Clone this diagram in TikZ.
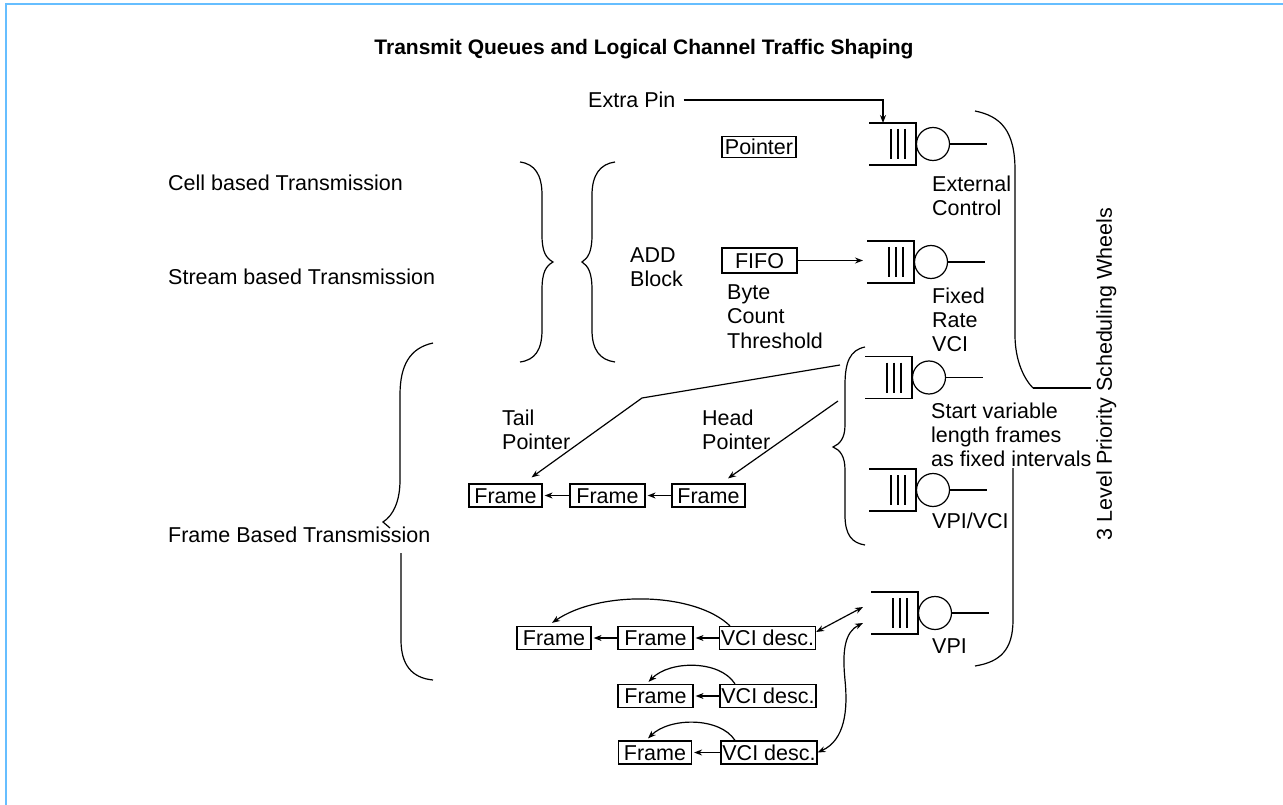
\documentclass[tikz,border=0pt]{standalone}
\usepackage{fontspec}
\setmainfont{Liberation Sans}
\usetikzlibrary{arrows.meta}
\definecolor{borderblue}{RGB}{102,190,255}
\tikzset{
  txt/.style={inner sep=0pt, font=\fontsize{21.5}{24.3}\selectfont},
  lbl/.style={txt, text height=15.5pt, text depth=0pt, anchor=west},
  mlbl/.style={txt, align=left, anchor=north west},
  box/.style={txt, draw, line width=1.2pt, text height=15.5pt, text depth=0pt, minimum height=23pt},
  ln/.style={line width=1.2pt},
  arr/.style={ln, -{Stealth[length=8pt,width=6pt]}},
  darr/.style={ln, {Stealth[length=8pt,width=6pt]}-{Stealth[length=8pt,width=6pt]}},
  queue/.pic={
    \draw[ln] (-64,-21) -- (-17,-21) -- (-17,21) -- (-64,21);
    \foreach \bx in {-42,-35,-28} \draw[ln] (\bx,-15) -- (\bx,15);
    \draw[ln] (0,0) circle[radius=16.5pt];
    \draw[ln] (16.5,0) -- (54,0);
    \coordinate (-top) at (-50,-21);
    \coordinate (-in) at (-68,0);
    \coordinate (-inA) at (-72,-6);
    \coordinate (-inB) at (-72,10);
  }
}
\begin{document}
\begin{tikzpicture}[x=1pt,y=-1pt]
\useasboundingbox (0,0) rectangle (1283,805);
% border
\draw[borderblue, line width=2pt] (6,805) -- (6,4) -- (1283,4);

% title
\node[txt, font=\bfseries\fontsize{21}{24}\selectfont, text height=15.5pt, text depth=0pt] (title) at (644,47) {Transmit Queues and Logical Channel Traffic Shaping};

% left labels
\node[lbl] (cell) at (168,183) {Cell based Transmission};
\node[lbl] (stream) at (168,277) {Stream based Transmission};
\node[lbl] (framebased) at (168,535) {Frame Based Transmission};

% queues
\pic (q1) at (933,144) {queue};
\pic (q2) at (931,262) {queue};
\pic (q3) at (929,377.5) {queue};
\pic (q4) at (933,490) {queue};
\pic (q5) at (935,613) {queue};

% queue labels
\node[mlbl] (ext) at (932,175.5) {External\\Control};
\node[mlbl] (fixed) at (932,287.5) {Fixed\\Rate\\VCI};
\node[mlbl] (start) at (931,402.5) {Start variable\\length frames\\as fixed intervals};
\node[lbl] (vpivci) at (932,521) {VPI/VCI};
\node[lbl] (vpi) at (932,646) {VPI};

% extra pin
\node[lbl] (ep) at (588,100) {Extra Pin};
\draw[arr] ([xshift=8pt]ep.east) -| (q1-top);

% pointer, fifo
\node[box, minimum width=74pt, minimum height=21pt] (ptr) at (759,147) {Pointer};
\node[box, minimum width=75pt, minimum height=25pt] (fifo) at (759.5,260.5) {FIFO};
\draw[arr] (fifo.east) -- (fifo.east -| q2-in);
\node[mlbl] (add) at (630,247.5) {ADD\\Block};
\node[mlbl] (byte) at (727,284.5) {Byte\\Count\\Threshold};

% braces left pair
\draw[ln] (520,162) .. controls (535,164) and (542,175) .. (542,195) -- (542,235)
  .. controls (542,252) and (546,258) .. (553,262) .. controls (546,266) and (542,272) .. (542,290)
  -- (542,330) .. controls (542,350) and (535,360) .. (520,362);
\draw[ln] (615,162) .. controls (600,164) and (592,175) .. (592,195) -- (592,235)
  .. controls (592,252) and (588,258) .. (582,262) .. controls (588,266) and (592,272) .. (592,290)
  -- (592,330) .. controls (592,350) and (600,360) .. (615,362);

% frame based brace
\draw[ln] (433,343) .. controls (410,348) and (400,365) .. (400,395) -- (400,480)
  .. controls (400,500) and (394,515) .. (383,522) -- (390,528);
\draw[ln] (401,553) -- (401,640) .. controls (401,665) and (412,678) .. (433,680);

% middle brace
\draw[ln] (865,347) .. controls (850,350) and (845,362) .. (845,385) -- (845,425)
  .. controls (845,438) and (840,444) .. (833,447) .. controls (840,450) and (845,456) .. (845,470)
  -- (845,515) .. controls (845,535) and (852,543) .. (865,545);

% big right brace
\coordinate (brtip) at (1033,388);
\draw[ln] (975,111) .. controls (1000,116) and (1015,130) .. (1015,170) -- (1015,335)
  .. controls (1015,362) and (1025,380) .. (brtip);
\draw[ln] (1013,468) -- (1013,620) .. controls (1013,650) and (1000,662) .. (975,666);
\node[txt, rotate=90, text height=15.5pt, text depth=0pt] (wheels) at (1104,374) {3 Level Priority Scheduling Wheels};
\draw[ln] (brtip) -- (brtip -| wheels.north) [shorten >=5pt];

% frame list 1
\node[box, minimum width=73pt] (f11) at (505.5,495.5) {Frame};
\node[box, minimum width=75pt] (f12) at (607.5,495.5) {Frame};
\node[box, minimum width=73pt] (f13) at (708.5,495.5) {Frame};
\draw[arr, shorten >=2pt] (f12) -- (f11);
\draw[arr, shorten >=2pt] (f13) -- (f12);
\node[mlbl] (tail) at (502,409.5) {Tail\\Pointer};
\node[mlbl] (head) at (702,409.5) {Head\\Pointer};
\coordinate (brA) at (840,365);
\coordinate (brB) at (838,401);
\coordinate (tailbend) at (642,398);
\draw[arr] (brA) -- (tailbend) -- ([xshift=26pt,yshift=6pt]f11.north);
\draw[arr] (brB) -- ([xshift=19.5pt,yshift=5pt]f13.north);

% VCI rows
\node[box, minimum width=74pt] (v1f1) at (554,638) {Frame};
\node[box, minimum width=75pt] (v1f2) at (655.5,638) {Frame};
\node[box, minimum width=96pt] (v1d) at (767.5,638) {VCI desc.};
\draw[arr, shorten >=2pt] (v1f2) -- (v1f1);
\draw[arr, shorten >=2pt] (v1d) -- (v1f2);
\draw[arr] ([xshift=-37.5pt]v1d.north) .. controls (695,592) and (600,590) .. ([xshift=-2pt,yshift=3pt]v1f1.north);

\node[box, minimum width=75pt] (v2f) at (655.5,696) {Frame};
\node[box, minimum width=96pt] (v2d) at (768,696) {VCI desc.};
\draw[arr, shorten >=2pt] (v2d) -- (v2f);
\draw[arr] ([xshift=-33pt]v2d.north) .. controls (720,660) and (670,660) .. ([xshift=-7pt,yshift=2pt]v2f.north);

\node[box, minimum width=73pt] (v3f) at (655,752.5) {Frame};
\node[box, minimum width=96pt] (v3d) at (769,752.5) {VCI desc.};
\draw[arr, shorten >=2pt] (v3d) -- (v3f);
\draw[arr] ([xshift=-34pt]v3d.north) .. controls (720,717) and (670,717) .. ([xshift=-7pt,yshift=2pt]v3f.north);

\draw[darr] ([yshift=6pt]v1d.east) -- (q5-inA);
\draw[darr] (v3d.east) .. controls (845,740) and (848,710) .. (845,680) .. controls (842,650) and (845,632) .. (q5-inB);
\end{tikzpicture}
\end{document}
